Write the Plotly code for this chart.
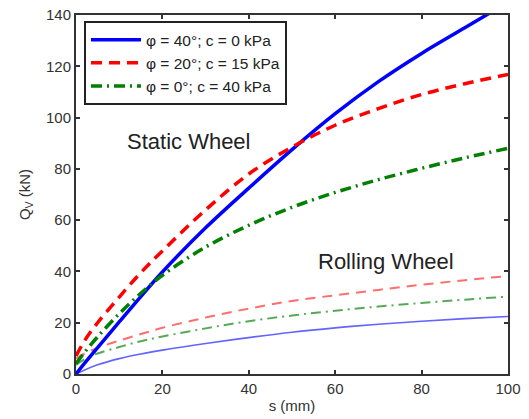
import plotly.graph_objects as go

# displacement s (mm)
s = [0, 2, 5, 10, 15, 20, 30, 40, 50, 60, 70, 80, 90, 100]

# static wheel Qv (kN)
static_phi40 = [0, 4.2, 10.3, 20.3, 30.2, 39.8, 57.0, 72.5, 87.5, 101.5, 114, 125, 135, 145]
static_phi20 = [7, 13, 20, 30, 39.5, 48, 64, 78, 88.5, 97, 103.5, 109, 113.2, 116.8]
static_phi0 = [4, 8.5, 14.5, 23.5, 31.5, 38.5, 49.5, 58, 65, 70.8, 75.8, 80.2, 84.3, 88]

# rolling wheel Qv (kN)
rolling_phi40 = [0, 1.6, 3.6, 6.0, 7.8, 9.3, 11.9, 14.2, 16.3, 18, 19.4, 20.6, 21.6, 22.4]
rolling_phi20 = [6, 8, 10.2, 13, 15.6, 18, 22, 25.5, 28.5, 30.7, 32.8, 34.8, 36.6, 38.2]
rolling_phi0 = [3.5, 5.8, 8, 10.5, 12.8, 14.6, 17.8, 20.6, 22.8, 24.7, 26.3, 27.7, 29, 30.2]

names = ["φ = 40°; c = 0 kPa", "φ = 20°; c = 15 kPa", "φ = 0°; c = 40 kPa"]
x_ticks = [0, 20, 40, 60, 80, 100]
y_ticks = [0, 20, 40, 60, 80, 100, 120, 140]

FONT = "Liberation Sans, Arial"

fig = go.Figure()

# rolling (thin, lighter)
fig.add_trace(go.Scatter(x=s, y=rolling_phi40, mode="lines", showlegend=False,
                         line=dict(color="rgba(60,60,255,0.8)", width=1.6, shape="spline")))
fig.add_trace(go.Scatter(x=s, y=rolling_phi20, mode="lines", showlegend=False,
                         line=dict(color="rgba(255,60,60,0.75)", width=2, dash="10px,7px", shape="spline")))
fig.add_trace(go.Scatter(x=s, y=rolling_phi0, mode="lines", showlegend=False,
                         line=dict(color="rgba(30,140,30,0.75)", width=2, dash="10px,5px,2px,5px", shape="spline")))

# static (thick)
fig.add_trace(go.Scatter(x=s, y=static_phi40, mode="lines", name=names[0],
                         line=dict(color="#0000ff", width=3.5, shape="spline")))
fig.add_trace(go.Scatter(x=s, y=static_phi20, mode="lines", name=names[1],
                         line=dict(color="#ff0000", width=3.5, dash="11px,7px", shape="spline")))
fig.add_trace(go.Scatter(x=s, y=static_phi0, mode="lines", name=names[2],
                         line=dict(color="#008000", width=3.5, dash="11px,5px,2px,5px", shape="spline")))

axis_common = dict(showline=True, linecolor="#333", linewidth=2, mirror="ticks",
                   ticks="inside", ticklen=4, tickcolor="#333", tickwidth=1.5,
                   showgrid=False, zeroline=False, automargin=False,
                   ticklabeloverflow="allow",
                   tickfont=dict(family=FONT, size=15, color="#333"))

fig.update_xaxes(range=[0, 100], tickvals=x_ticks,
                 title=dict(text="s (mm)", font=dict(family=FONT, size=15, color="#333"),
                            standoff=4),
                 **axis_common)
fig.update_yaxes(range=[0, 140], tickvals=y_ticks,
                 title=dict(text="Q<sub>V</sub> (kN)", font=dict(family=FONT, size=15, color="#333"),
                            standoff=12),
                 **axis_common)

fig.add_annotation(x=26.2, y=90.5, text="Static Wheel", showarrow=False,
                   font=dict(family=FONT, size=22, color="#222"))
fig.add_annotation(x=71.8, y=43.8, text="Rolling Wheel", showarrow=False,
                   font=dict(family=FONT, size=22, color="#222"))

fig.update_layout(
    width=529, height=419,
    margin=dict(l=76, r=21, t=15, b=45, autoexpand=False),
    paper_bgcolor="white", plot_bgcolor="white",
    legend=dict(x=0.0185, y=0.983, xanchor="left", yanchor="top",
                bgcolor="white", bordercolor="#222", borderwidth=2,
                font=dict(family=FONT, size=15.5, color="#222"),
                itemwidth=50, tracegroupgap=0),
)

# remove the default 8px page margin so the figure fills the window exactly
fig.write_html("out.html", config={"displayModeBar": False},
               post_script="document.body.style.margin='0';")
